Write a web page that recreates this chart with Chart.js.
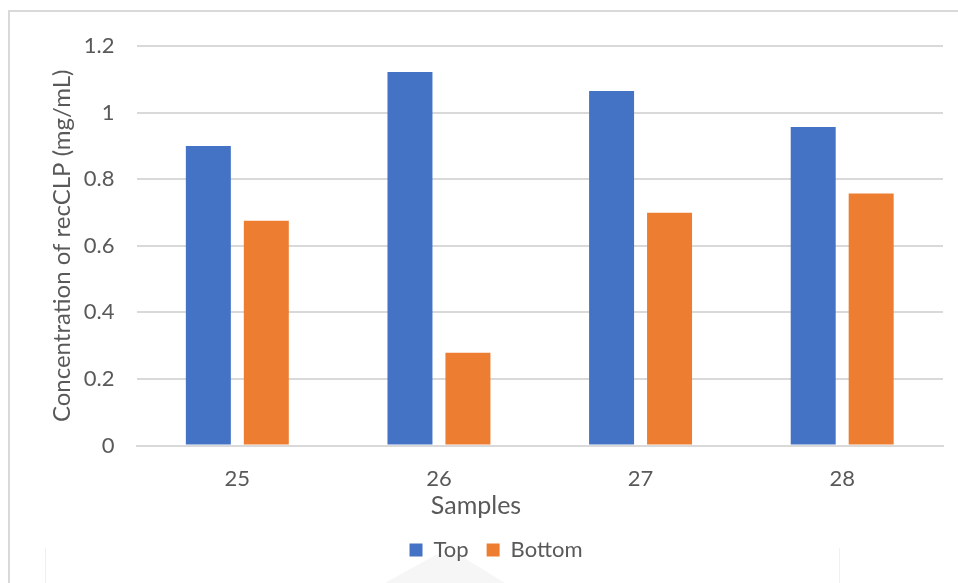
<!DOCTYPE html>
<html>
<head>
<meta charset="utf-8">
<title>recCLP concentration</title>
<script src="https://cdn.jsdelivr.net/npm/chart.js@4/dist/chart.umd.min.js"></script>
<style>
    html, body { margin: 0; padding: 0; background: #fff; overflow: hidden; }
    #wrap { position: relative; width: 958px; height: 583px; }
    #frame {
        position: absolute; left: 8px; top: 10px; width: 1000px; height: 700px;
        border-left: 2px solid #d9d9d9; border-top: 2px solid #d9d9d9;
    }
    /* faint page shapes showing through behind the legend */
    #sheet {
        position: absolute; left: 45px; top: 548px; width: 793px; height: 60px;
        border-left: 1px solid #f0f0f0; border-right: 1px solid #f0f0f0;
    }
    #wedge {
        position: absolute; left: 385px; top: 555px; width: 120px; height: 28px;
        background: #f6f6f6; clip-path: polygon(0 100%, 42% 0, 62% 0, 100% 100%);
    }
    canvas { position: absolute; left: 0; top: 0; }
</style>
</head>
<body>
<div id="wrap">
    <div id="sheet"></div>
    <div id="wedge"></div>
    <div id="frame"></div>
    <canvas id="chart" width="958" height="583"></canvas>
</div>
<script>
const samples = ["25", "26", "27", "28"];
const topValues = [0.90, 1.122, 1.065, 0.957];
const bottomValues = [0.675, 0.279, 0.699, 0.757];

const textColor = "#595959";
const gridColor = "#d9d9d9";
const fontFamily = "Lato, 'Open Sans', sans-serif";

// nudge the legend a little to the right of the centre line
const legendShift = {
    id: "legendShift",
    afterLayout(chart) {
        const lg = chart.legend;
        if (!lg) return;
        lg.left += 20;
        lg.right += 20;
    }
};

const ctx = document.getElementById("chart").getContext("2d");
new Chart(ctx, {
    type: "bar",
    data: {
        labels: samples,
        datasets: [
            {
                label: "Top",
                data: topValues,
                backgroundColor: "#4472C4",
                categoryPercentage: 0.575,
                barPercentage: 0.776
            },
            {
                label: "Bottom",
                data: bottomValues,
                backgroundColor: "#ED7D31",
                categoryPercentage: 0.575,
                barPercentage: 0.776
            }
        ]
    },
    options: {
        responsive: false,
        animation: false,
        layout: { padding: { left: 9, right: 15, top: 46, bottom: 12 } },
        scales: {
            x: {
                grid: { display: false, drawTicks: false },
                border: { display: true, color: gridColor, width: 2 },
                ticks: { color: textColor, padding: 20, font: { family: fontFamily, size: 22 } }
            },
            y: {
                min: 0,
                max: 1.2,
                ticks: {
                    stepSize: 0.2,
                    color: textColor,
                    padding: 22,
                    font: { family: fontFamily, size: 22 },
                    callback: (v) => String(Number(v.toFixed(1)))
                },
                grid: { color: gridColor, lineWidth: 2, drawTicks: false },
                border: { display: false },
                title: {
                    display: true,
                    text: "Concentration of recCLP (mg/mL)",
                    color: textColor,
                    font: { family: fontFamily, size: 24 },
                    padding: { top: 39, bottom: -15 }
                }
            }
        },
        plugins: {
            title: {
                display: true,
                text: "Samples",
                position: "bottom",
                weight: 500,
                color: textColor,
                font: { family: fontFamily, size: 25, weight: "normal" },
                padding: { top: -21, bottom: 0 }
            },
            legend: {
                position: "bottom",
                labels: {
                    color: textColor,
                    boxWidth: 13,
                    boxHeight: 13,
                    padding: 18,
                    font: { family: fontFamily, size: 22 }
                }
            },
            tooltip: { enabled: false }
        }
    },
    plugins: [legendShift]
});
</script>
</body>
</html>
